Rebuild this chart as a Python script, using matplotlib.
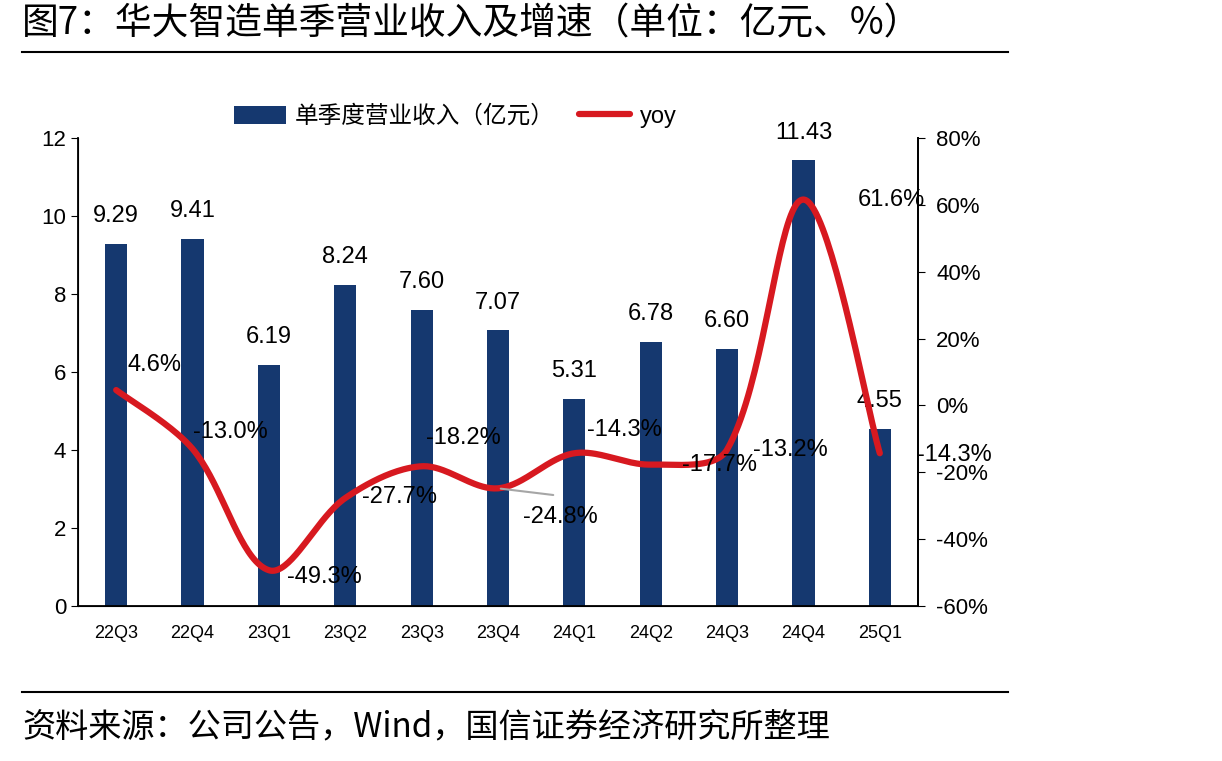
import numpy as np
import matplotlib
matplotlib.use('Agg')
import matplotlib.pyplot as plt

plt.rcParams['font.family'] = ['Liberation Sans', 'Noto Sans CJK SC', 'DejaVu Sans']

quarters = ['22Q3', '22Q4', '23Q1', '23Q2', '23Q3', '23Q4',
            '24Q1', '24Q2', '24Q3', '24Q4', '25Q1']
revenue = [9.29, 9.41, 6.19, 8.24, 7.60, 7.07, 5.31, 6.78, 6.60, 11.43, 4.55]
yoy = [4.6, -13.0, -49.3, -27.7, -18.2, -24.8, -14.3, -17.7, -13.2, 61.6, -14.3]

# label offsets (pixels) for the yoy labels, as Excel placed them
yoy_offsets = [(38, 25), (38, 17), (55, -7), (54, 1), (42, 28), (62, -29),
               (50, 23), (69, 0), (63, 0), (88, 0), (75, -2)]

bar_color = '#15386F'
line_color = '#D71920'

AX_W, AX_H = 840, 468  # axes size in pixels


def smooth(xs, ys, sx, sy, n=40):
    # excel-like smoothed line: bezier with length weighted tangents,
    # worked out in pixel space so the overshoot looks right
    px = np.asarray(xs, float) * sx
    py = np.asarray(ys, float) * sy
    pts = np.column_stack([px, py])
    m = len(pts)
    t = np.linspace(0, 1, n)
    out = []
    for i in range(m - 1):
        p1, p2 = pts[i], pts[i + 1]
        p0 = pts[i - 1] if i > 0 else p1
        p3 = pts[i + 2] if i + 2 < m else p2
        d01 = np.linalg.norm(p1 - p0)
        d12 = np.linalg.norm(p2 - p1)
        d23 = np.linalg.norm(p3 - p2)
        w1 = d12 / (d01 + d12) if d01 > 0 else 0.5
        w2 = d12 / (d12 + d23) if d23 > 0 else 0.5
        c1 = p1 + (p2 - p0) * w1 / 3
        c2 = p2 - (p3 - p1) * w2 / 3
        b = ((1 - t) ** 3)[:, None] * p1 + (3 * (1 - t) ** 2 * t)[:, None] * c1 \
            + (3 * (1 - t) * t ** 2)[:, None] * c2 + (t ** 3)[:, None] * p2
        out.append(b)
    out = np.vstack(out)
    return out[:, 0] / sx, out[:, 1] / sy


fig = plt.figure(figsize=(12.22, 7.61), dpi=100)
ax = fig.add_axes([78 / 1222, 1 - 606 / 761, AX_W / 1222, AX_H / 761])
x = np.arange(len(quarters))

bars = ax.bar(x, revenue, width=0.29, color=bar_color, label='单季度营业收入（亿元）', zorder=2)
for xi, v in zip(x, revenue):
    ax.annotate(f'{v:.2f}', (xi, v), xytext=(0, 12), textcoords='offset points',
                ha='center', va='bottom', fontsize=17)

ax.set_xlim(-0.5, len(quarters) - 0.5)
ax.set_ylim(0, 12)
ax.set_yticks(range(0, 13, 2))
ax.set_xticks(x)
ax.set_xticklabels(quarters, fontsize=13)
ax.tick_params(axis='x', length=0, pad=14)
ax.tick_params(axis='y', labelsize=16, length=5, direction='out')
ax.spines['top'].set_visible(False)
for s in ['left', 'bottom', 'right']:
    ax.spines[s].set_linewidth(1.3)

ax2 = ax.twinx()
lx, ly = smooth(x, yoy, AX_W / len(quarters), AX_H / 140)
line, = ax2.plot(lx, ly, color=line_color, lw=4.5, label='yoy', zorder=3,
                 solid_capstyle='round')
ax2.set_ylim(-60, 80)
ax2.set_yticks(range(-60, 81, 20))
ax2.set_yticklabels([f'{v}%' for v in range(-60, 81, 20)])
ax2.tick_params(axis='y', labelsize=16, length=5, direction='out', pad=8)
ax2.spines['top'].set_visible(False)
ax2.spines['right'].set_linewidth(1.3)

for xi, v, (dx, dy) in zip(x, yoy, yoy_offsets):
    ax2.annotate(f'{v:.1f}%', (xi, v), xytext=(dx * 0.72, dy * 0.72),
                 textcoords='offset points', ha='center', va='center', fontsize=17,
                 zorder=4)

# leader line for 23Q4 label
ax2.annotate('', (5, yoy[5]), xytext=(58 * 0.72, -7 * 0.72), textcoords='offset points',
             arrowprops=dict(arrowstyle='-', color='#A6A6A6', lw=1.5))

ax.legend(handles=[bars, line], loc='upper left', bbox_to_anchor=(0.16, 1.115),
          ncol=2, frameon=False, fontsize=17, handlelength=2.2, handleheight=0.8,
          columnspacing=1.0, handletextpad=0.4)

fig.text(22 / 1222, 1 - 24 / 761, '图7：华大智造单季营业收入及增速（单位：亿元、%）',
         fontsize=26.5, va='center', ha='left', family=['Noto Sans CJK SC'])
fig.add_artist(plt.Line2D([22 / 1222, 1008 / 1222], [1 - 52 / 761, 1 - 52 / 761],
                          color='black', lw=1.5))
fig.add_artist(plt.Line2D([22 / 1222, 1008 / 1222], [1 - 692 / 761, 1 - 692 / 761],
                          color='black', lw=1.5))
fig.text(22 / 1222, 1 - 728 / 761, '资料来源：公司公告，Wind，国信证券经济研究所整理',
         fontsize=23.9, va='center', ha='left', family=['Noto Sans CJK SC'])

fig.savefig('out.png', dpi=100)
